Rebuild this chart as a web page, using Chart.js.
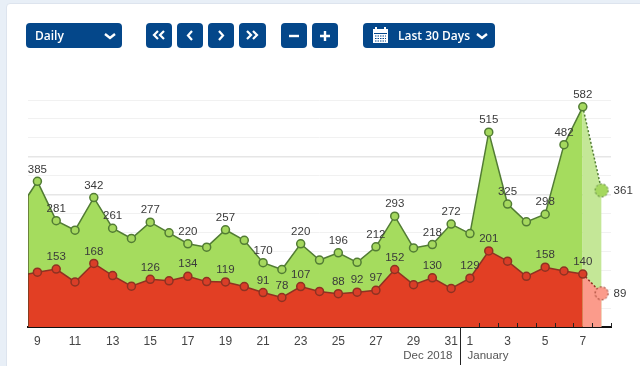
<!DOCTYPE html>
<html>
<head>
<meta charset="utf-8">
<title>Daily</title>
<script src="https://cdn.jsdelivr.net/npm/chart.js@4"></script>
<style>
  html, body { margin: 0; padding: 0; width: 640px; height: 366px; overflow: hidden; background: #e8eff7; }
  #card { position: absolute; left: 6px; top: 3px; width: 640px; height: 380px; background: #fff; border: 1px solid #dde4ee; border-radius: 4px; box-sizing: border-box; }
  #chart { position: absolute; left: 0; top: 0; }
  .btn { position: absolute; top: 23px; height: 25px; background: #04478a; border-radius: 4px; color: #fff; font: 600 12px "Open Sans", sans-serif; line-height: 25px; box-sizing: border-box; }
  .btn svg { position: absolute; left: 0; top: 0; }
  .btn span { position: absolute; top: 0; white-space: nowrap; }
</style>
</head>
<body>
<div id="card"></div>
<canvas id="chart" width="640" height="366"></canvas>

<div class="btn" style="left:26px;width:96px"><span style="left:9px">Daily</span>
  <svg width="96" height="25"><path d="M79 11l5 4 5-4" fill="none" stroke="#fff" stroke-width="2.4"/></svg></div>
<div class="btn" style="left:146px;width:26px"><svg width="26" height="25"><path d="M12 8l-4 4 4 4M18 8l-4 4 4 4" fill="none" stroke="#fff" stroke-width="2.2"/></svg></div>
<div class="btn" style="left:177px;width:26px"><svg width="26" height="25"><path d="M15 8l-4 4.500 4 4.500" fill="none" stroke="#fff" stroke-width="2.2"/></svg></div>
<div class="btn" style="left:208px;width:26px"><svg width="26" height="25"><path d="M11 8l4 4.500-4 4.500" fill="none" stroke="#fff" stroke-width="2.2"/></svg></div>
<div class="btn" style="left:239px;width:27px"><svg width="27" height="25"><path d="M8 8l4 4-4 4M14 8l4 4-4 4" fill="none" stroke="#fff" stroke-width="2.2"/></svg></div>
<div class="btn" style="left:281px;width:26px"><svg width="26" height="25"><path d="M8 13h10" stroke="#fff" stroke-width="2.4"/></svg></div>
<div class="btn" style="left:312px;width:26px"><svg width="26" height="25"><path d="M8 13h10M13 8v10" stroke="#fff" stroke-width="2.4"/></svg></div>
<div class="btn" style="left:363px;width:132px">
  <svg width="132" height="25">
    <path d="M10 6h15v14h-15z" fill="#fff"/><path d="M13 4v4M22 4v4" stroke="#fff" stroke-width="2"/>
    <path d="M11 10.500h13" stroke="#04478a"/><path d="M12 13h11M12 15.500h11M12 18h11" stroke="#04478a" stroke-dasharray="1.500 1"/>
    <path d="M114 11l5 4 5-4" fill="none" stroke="#fff" stroke-width="2.400"/>
  </svg>
  <span style="left:35px">Last 30 Days</span></div>

<script>
// dates along the bottom, Dec 9 2018 to Jan 8 2019
const days = [9,10,11,12,13,14,15,16,17,18,19,20,21,22,23,24,25,26,27,28,29,30,31,1,2,3,4,5,6,7,8];
const greenValues = [385,281,256,342,261,234,277,249,220,211,257,229,170,152,220,177,196,171,212,293,209,218,272,247,515,325,278,298,482,582,361];
const redValues   = [145,153,119,168,136,108,126,122,134,120,119,107,91,78,107,94,88,92,97,152,112,130,102,129,201,174,134,158,148,140,89];
// the areas run on past the first day to the left edge of the plot
const greenEdge = 347;
const redEdge = 140;
// days whose value has a label
const greenLabelled = [0,1,3,4,6,8,10,12,14,16,18,19,21,22,24,25,27,28,29,30];
const redLabelled   = [1,3,6,8,10,12,13,14,16,17,18,19,21,23,24,27,29,30];
// positions in days that get a tick label: 9, 11 ... 31, 1, 3, 5, 7
const tickDays = [0,2,4,6,8,10,12,14,16,18,20,22,23,25,27,29];

const lastDay = days.length - 1;
const firstJan = days.indexOf(1);

function series(edge, values){
  return [{ x: -0.5, y: edge }].concat(values.map((v, i) => ({ x: i, y: v })));
}

function dashedDot(fill, stroke){
  const c = document.createElement("canvas");
  c.width = c.height = 16;
  const g = c.getContext("2d");
  g.beginPath();
  g.arc(8, 8, 6.5, 0, Math.PI * 2);
  g.fillStyle = fill;
  g.fill();
  g.setLineDash([2, 2]);
  g.strokeStyle = stroke;
  g.lineWidth = 1;
  g.stroke();
  return c;
}

function dataset(label, edge, values, o){
  const forecastDot = dashedDot(o.lightPoint, o.line);
  return {
    label,
    data: series(edge, values),
    borderColor: o.line,
    borderWidth: 1.5,
    backgroundColor: o.area,
    fill: "origin",
    tension: 0,
    pointBackgroundColor: o.point,
    pointBorderColor: o.line,
    pointBorderWidth: 1.5,
    pointRadius: c => c.dataIndex === 0 ? 0 : 4,
    pointStyle: c => c.dataIndex === lastDay + 1 ? forecastDot : "circle",
    segment: {
      borderDash: c => c.p1DataIndex === lastDay + 1 ? [2, 2] : undefined,
      backgroundColor: c => c.p1DataIndex === lastDay + 1 ? o.lightArea : undefined
    }
  };
}

// value labels, separator, month names and the small January ticks
const extras = {
  id: "extras",
  afterDraw(chart){
    const { ctx, scales: { x, y } } = chart;
    ctx.save();
    ctx.font = '11.5px "Liberation Sans", Arial, sans-serif';
    ctx.fillStyle = "#3a3a3a";
    ctx.textAlign = "center";
    ctx.textBaseline = "middle";
    const draw = (values, labelled) => labelled.forEach(i => {
      if (i === lastDay) return;
      ctx.fillText(values[i], x.getPixelForValue(i), y.getPixelForValue(values[i]) - 12);
    });
    draw(greenValues, greenLabelled);
    draw(redValues, redLabelled);
    ctx.textAlign = "left";
    ctx.fillText(greenValues[lastDay], x.getPixelForValue(lastDay) + 12, y.getPixelForValue(greenValues[lastDay]) + 0.5);
    ctx.fillText(redValues[lastDay], x.getPixelForValue(lastDay) + 12, y.getPixelForValue(redValues[lastDay]) + 0.5);

    const base = y.getPixelForValue(0);
    // dark left edge of the areas
    ctx.strokeStyle = "rgba(60,60,30,0.55)";
    ctx.lineWidth = 1;
    ctx.beginPath();
    ctx.moveTo(x.left + 0.5, y.getPixelForValue(greenEdge));
    ctx.lineTo(x.left + 0.5, base);
    ctx.stroke();

    ctx.strokeStyle = "#222";
    ctx.beginPath();
    for (let i = firstJan + 0.5; i <= lastDay + 0.5; i++) {
      const px = Math.round(x.getPixelForValue(i)) + 0.5;
      ctx.moveTo(px, base);
      ctx.lineTo(px, base - 4);
    }
    const sep = Math.floor(x.getPixelForValue(firstJan - 0.5)) + 0.5;
    ctx.moveTo(sep, base);
    ctx.lineTo(sep, 365);
    ctx.stroke();

    ctx.font = '11.5px "Liberation Sans", Arial, sans-serif';
    ctx.fillStyle = "#555";
    ctx.textAlign = "right";
    ctx.fillText("Dec 2018", sep - 8, 356);
    ctx.textAlign = "left";
    ctx.fillText("January", sep + 7, 356);
    ctx.restore();
  }
};

new Chart(document.getElementById("chart"), {
  type: "line",
  data: {
    datasets: [
      dataset("Red", redEdge, redValues, { line: "#8e3222", area: "#e23f24", point: "#d93e28", lightArea: "#fb9b8b", lightPoint: "#fb9b8b" }),
      dataset("Green", greenEdge, greenValues, { line: "#527c34", area: "#a5dc5e", point: "#a5d85e", lightArea: "#c4e797", lightPoint: "#a5d85e" })
    ]
  },
  plugins: [extras],
  options: {
    responsive: false,
    animation: false,
    layout: { padding: { left: 28, right: 29, top: 100, bottom: 0 } },
    plugins: { legend: { display: false }, title: { display: false }, tooltip: { enabled: false } },
    scales: {
      x: {
        type: "linear",
        min: -0.5,
        max: lastDay + 0.5,
        afterBuildTicks: s => { s.ticks = tickDays.map(value => ({ value })); },
        afterFit: s => { s.height = 39; },
        grid: { display: false, drawTicks: false },
        border: { color: "#111", width: 2 },
        ticks: {
          autoSkip: false,
          maxRotation: 0,
          padding: 7,
          color: "#444",
          font: { family: '"Liberation Sans", Arial, sans-serif', size: 12 },
          callback: v => days[v]
        }
      },
      y: {
        min: 0,
        max: 600,
        afterFit: s => { s.width = 0; },
        ticks: { display: false, stepSize: 50 },
        border: { display: false },
        grid: {
          drawTicks: false,
          color: c => (c.tick.value === 350 || c.tick.value === 450) ? "#e6e6e6" : "#f1f1f1",
          lineWidth: c => (c.tick.value === 350 || c.tick.value === 450) ? 1.5 : 1
        }
      }
    }
  }
});
</script>
</body>
</html>
